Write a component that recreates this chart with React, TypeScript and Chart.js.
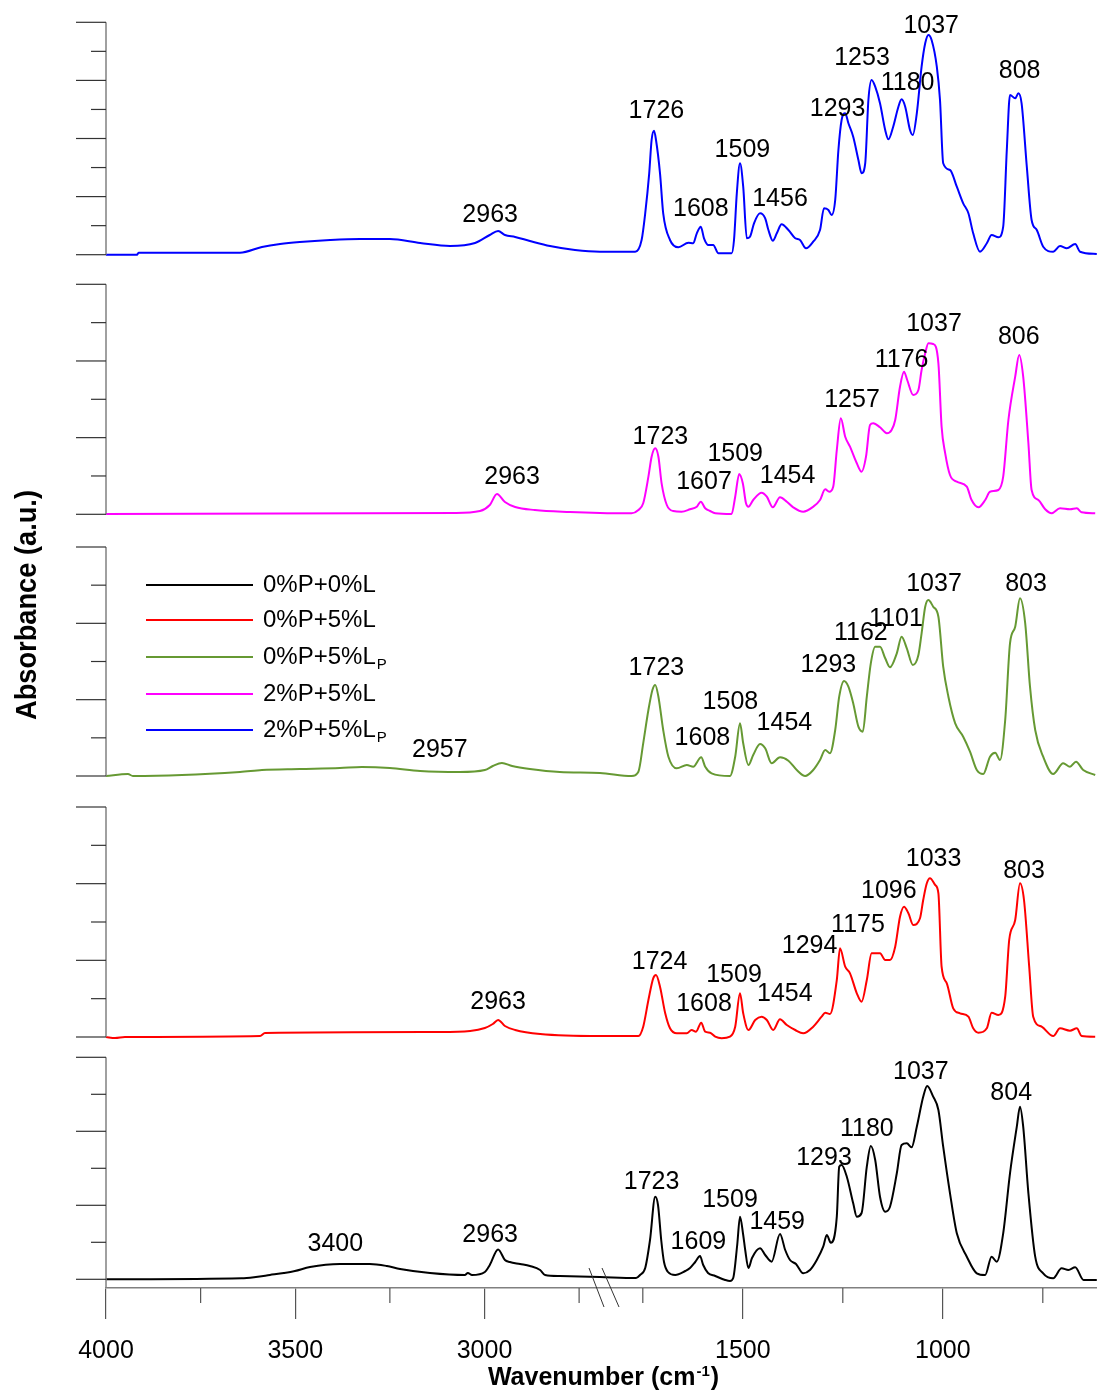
import React, { useEffect, useRef } from 'react';
import { Chart, registerables } from 'chart.js';

Chart.register(...registerables);

const FONT = "'Liberation Sans', Arial, Helvetica, sans-serif";

// ---------------- data (wavenumber in cm-1, absorbance in a.u., baseline of each panel = 0) ----------------
const X_MAJOR_TICKS = [4000, 3500, 3000, 1500, 1000];
const X_MINOR_TICKS = [3750, 3250, 2750, 1750, 1250, 750];

// 0%P+0%L (black)
const blackWn = [4000, 3642, 3604, 3567, 3530, 3501, 3461, 3382, 3303, 3258, 3223, 3144, 3052, 3044, 3033, 2999, 2986, 2964, 2946, 2933, 2906, 2880, 2853, 2840, 2801, 2695,
  1767, 1757, 1744, 1732, 1719, 1712, 1704, 1697, 1687, 1669, 1644, 1632, 1619, 1607, 1599, 1587, 1569, 1544, 1532, 1524, 1514, 1507, 1499, 1494, 1486, 1477, 1457, 1444, 1428, 1407,
  1394, 1382, 1367, 1349, 1332, 1315, 1299, 1290, 1280, 1265, 1259, 1253, 1240, 1224, 1215, 1203, 1190, 1180, 1169, 1157, 1144, 1132, 1115, 1103, 1090, 1078, 1065, 1049, 1039, 1024,
  1011, 999, 982, 965, 940, 915, 894, 878, 865, 849, 832, 815, 807, 799, 786, 769, 749, 724, 703, 686, 669, 648, 615];
const blackAbs = [0, 0.01, 0.023, 0.043, 0.063, 0.083, 0.123, 0.153, 0.153, 0.133, 0.103, 0.063, 0.043, 0.063, 0.043, 0.073, 0.143, 0.298, 0.193, 0.173, 0.153, 0.133, 0.093, 0.043, 0.033, 0.023,
  0.013, 0.043, 0.113, 0.393, 0.826, 0.743, 0.393, 0.173, 0.073, 0.043, 0.083, 0.113, 0.173, 0.233, 0.143, 0.063, 0.033, -0.007, -0.017, 0.013, 0.343, 0.626, 0.443, 0.293, 0.113, 0.213, 0.31, 0.243, 0.176, 0.453,
  0.293, 0.193, 0.153, 0.06, 0.093, 0.193, 0.326, 0.443, 0.366, 0.626, 1.126, 1.143, 1.026, 0.76, 0.626, 0.663, 1.126, 1.333, 1.193, 0.826, 0.676, 0.726, 1.06, 1.343, 1.36, 1.32, 1.526, 1.826, 1.933, 1.826,
  1.693, 1.326, 0.86, 0.46, 0.226, 0.06, 0.043, 0.226, 0.176, 0.46, 1.06, 1.526, 1.726, 1.526, 0.86, 0.226, 0.06, 0.01, 0.11, 0.093, 0.12, -0.007, -0.007];
const blackPeaks = [['3400', 3394, 0.356], ['2963', 2985, 0.446], ['1723', 1728, 0.976], ['1609', 1611, 0.373], ['1509', 1532, 0.79], ['1459', 1414, 0.573], ['1293', 1297, 1.213], ['1180', 1190, 1.503], ['1037', 1055, 2.07], ['804', 829, 1.86]];

// 0%P+5%L (red)
const redWn = [4000, 3976, 3950, 3593, 3580, 3118, 3038, 2999, 2978, 2964, 2946, 2919, 2853, 2695,
  1761, 1749, 1736, 1724, 1717, 1707, 1694, 1682, 1665, 1640, 1628, 1617, 1604, 1594, 1582, 1569, 1553, 1532, 1519, 1507,
  1499, 1486, 1469, 1453, 1440, 1424, 1407, 1390, 1369, 1349, 1324, 1303, 1294, 1282, 1265, 1257, 1244, 1232, 1215, 1203,
  1190, 1178, 1157, 1144, 1132, 1119, 1107, 1097, 1086, 1074, 1057, 1049, 1040, 1032, 1019, 1011, 1003, 990, 974, 957,
  936, 924, 911, 890, 878, 861, 844, 834, 819, 807, 797, 784, 774, 753, 724, 707, 682, 665, 653, 619];
const redAbs = [0, -0.01, 0, 0.01, 0.04, 0.05, 0.06, 0.09, 0.13, 0.17, 0.11, 0.07, 0.03, 0.01,
  0.01, 0.103, 0.37, 0.587, 0.62, 0.503, 0.237, 0.087, 0.037, 0.037, 0.07, 0.053, 0.143, 0.053, 0.043, 0.003, -0.013, 0.003, 0.103, 0.437,
  0.237, 0.07, 0.17, 0.203, 0.17, 0.07, 0.177, 0.12, 0.07, 0.037, 0.103, 0.203, 0.243, 0.23, 0.57, 0.887, 0.703, 0.637, 0.437, 0.353,
  0.57, 0.837, 0.837, 0.77, 0.77, 0.903, 1.203, 1.303, 1.237, 1.12, 1.187, 1.37, 1.537, 1.587, 1.52, 1.437, 0.703, 0.537, 0.287, 0.237,
  0.203, 0.087, 0.043, 0.087, 0.243, 0.22, 0.403, 0.97, 1.17, 1.537, 1.37, 0.703, 0.203, 0.103, 0.01, 0.087, 0.063, 0.087, 0.01, 0.003];
const redPeaks = [['2963', 2964, 0.35], ['1724', 1708, 0.75], ['1608', 1597, 0.33], ['1509', 1522, 0.62], ['1454', 1395, 0.43], ['1294', 1333, 0.913], ['1175', 1212, 1.117], ['1096', 1135, 1.46], ['1033', 1023, 1.777], ['803', 797, 1.657]];

// 0%P+5%Lp (green)
const greenWn = [4000, 3942, 3929, 3646, 3588, 3488, 3382, 3324, 3250, 3170, 3065, 2999, 2978, 2954, 2927, 2880, 2801, 2695,
  1778, 1761, 1749, 1736, 1726, 1719, 1711, 1699, 1686, 1665, 1640, 1624, 1604, 1594, 1578, 1532, 1519, 1507, 1499, 1486,
  1474, 1457, 1444, 1428, 1407, 1386, 1365, 1344, 1324, 1307, 1294, 1282, 1269, 1259, 1247, 1236, 1224, 1211, 1200, 1190,
  1180, 1169, 1157, 1144, 1132, 1115, 1103, 1090, 1075, 1061, 1053, 1044, 1036, 1024, 1011, 999, 986, 969, 949, 932,
  915, 899, 882, 869, 857, 844, 832, 819, 807, 794, 782, 769, 749, 724, 699, 682, 667, 649, 619];
const greenAbs = [0, 0.02, 0, 0.04, 0.06, 0.07, 0.08, 0.09, 0.08, 0.05, 0.04, 0.06, 0.1, 0.13, 0.1, 0.07, 0.04, 0.03,
  0, 0.043, 0.327, 0.66, 0.86, 0.91, 0.793, 0.46, 0.193, 0.077, 0.11, 0.093, 0.187, 0.093, 0.027, 0, 0.193, 0.527, 0.327, 0.11,
  0.21, 0.32, 0.277, 0.127, 0.187, 0.153, 0.06, 0, 0.06, 0.16, 0.26, 0.227, 0.46, 0.793, 0.95, 0.893, 0.727, 0.493, 0.443, 0.793,
  1.127, 1.293, 1.293, 1.177, 1.087, 1.227, 1.393, 1.277, 1.11, 1.21, 1.427, 1.693, 1.76, 1.693, 1.593, 1.093, 0.793, 0.527, 0.393, 0.243,
  0.06, 0.02, 0.193, 0.233, 0.16, 0.56, 1.327, 1.493, 1.777, 1.527, 0.893, 0.46, 0.193, 0.02, 0.127, 0.093, 0.143, 0.06, 0.01];
const greenPeaks = [['2957', 3118, 0.26], ['1723', 1716, 1.077], ['1608', 1601, 0.377], ['1508', 1531, 0.737], ['1454', 1396, 0.53], ['1293', 1286, 1.11], ['1162', 1205, 1.43], ['1101', 1117, 1.573], ['1037', 1022, 1.917], ['803', 792, 1.917]];

// 2%P+5%L (magenta)
const magentaWn = [4000, 3078, 3012, 2986, 2967, 2946, 2919, 2867, 2774, 2695,
  1778, 1761, 1749, 1736, 1728, 1719, 1711, 1703, 1690, 1674, 1653, 1632, 1615, 1605, 1594, 1582, 1569, 1528, 1519, 1509,
  1500, 1492, 1486, 1474, 1453, 1440, 1425, 1407, 1390, 1374, 1349, 1324, 1307, 1294, 1284, 1274, 1265, 1255, 1244, 1232,
  1215, 1203, 1192, 1182, 1174, 1157, 1140, 1128, 1119, 1107, 1097, 1089, 1074, 1061, 1053, 1044, 1036, 1024, 1011, 1003,
  994, 982, 965, 940, 928, 911, 894, 882, 861, 849, 836, 819, 809, 799, 786, 778, 761, 744, 728, 707, 682, 665, 653, 619];
const magentaAbs = [0.003, 0.013, 0.033, 0.093, 0.203, 0.123, 0.073, 0.043, 0.023, 0.013,
  0.01, 0.043, 0.11, 0.376, 0.576, 0.66, 0.576, 0.31, 0.093, 0.033, 0.026, 0.05, 0.076, 0.126, 0.06, 0.033, 0.01, 0.003, 0.176, 0.403,
  0.31, 0.11, 0.076, 0.143, 0.216, 0.176, 0.07, 0.17, 0.126, 0.07, 0.026, 0.076, 0.143, 0.25, 0.226, 0.276, 0.643, 0.96, 0.776, 0.676,
  0.51, 0.426, 0.576, 0.893, 0.91, 0.87, 0.81, 0.843, 0.943, 1.276, 1.426, 1.343, 1.193, 1.243, 1.443, 1.61, 1.71, 1.703, 1.51, 0.876,
  0.61, 0.393, 0.326, 0.276, 0.143, 0.07, 0.143, 0.226, 0.243, 0.376, 0.943, 1.376, 1.593, 1.376, 0.71, 0.243, 0.143, 0.05, 0.01, 0.06, 0.05, 0.06, 0.02, 0.01];
const magentaPeaks = [['2963', 2927, 0.373], ['1723', 1706, 0.776], ['1607', 1597, 0.32], ['1509', 1519, 0.603], ['1454', 1388, 0.383], ['1257', 1227, 1.143], ['1176', 1103, 1.543], ['1037', 1022, 1.903], ['806', 810, 1.77]];

// 2%P+5%Lp (blue)
const blueWn = [4000, 3918, 3914, 3646, 3588, 3540, 3488, 3408, 3329, 3250, 3170, 3091, 3025, 2986, 2964, 2946, 2919, 2880, 2827, 2761, 2695,
  1769, 1753, 1744, 1734, 1728, 1722, 1717, 1707, 1699, 1682, 1661, 1636, 1624, 1615, 1605, 1597, 1586, 1574, 1561, 1528,
  1522, 1515, 1507, 1499, 1490, 1482, 1472, 1457, 1444, 1436, 1425, 1415, 1403, 1386, 1369, 1357, 1342, 1324, 1307, 1297,
  1286, 1278, 1269, 1261, 1253, 1244, 1236, 1224, 1211, 1203, 1194, 1186, 1178, 1169, 1157, 1144, 1136, 1124, 1111, 1103,
  1094, 1082, 1075, 1065, 1053, 1044, 1036, 1028, 1015, 1007, 999, 982, 965, 949, 936, 924, 907, 890, 878, 861,
  849, 840, 832, 819, 811, 803, 790, 778, 765, 749, 724, 707, 690, 669, 657, 615];
const blueAbs = [0, 0, 0.02, 0.02, 0.077, 0.107, 0.127, 0.147, 0.157, 0.157, 0.117, 0.087, 0.117, 0.197, 0.237, 0.197, 0.177, 0.137, 0.087, 0.047, 0.03,
  0.03, 0.147, 0.414, 0.814, 1.147, 1.24, 1.147, 0.814, 0.414, 0.147, 0.074, 0.12, 0.114, 0.214, 0.28, 0.164, 0.097, 0.097, 0.014, 0.014,
  0.147, 0.614, 0.914, 0.68, 0.164, 0.18, 0.314, 0.414, 0.364, 0.247, 0.14, 0.214, 0.304, 0.247, 0.164, 0.147, 0.064, 0.13, 0.247, 0.464,
  0.447, 0.397, 0.547, 1.047, 1.347, 1.414, 1.314, 1.18, 0.947, 0.814, 0.914, 1.547, 1.747, 1.68, 1.514, 1.247, 1.154, 1.28, 1.48, 1.554,
  1.48, 1.247, 1.197, 1.414, 1.88, 2.114, 2.197, 2.147, 1.88, 1.547, 0.914, 0.847, 0.68, 0.514, 0.414, 0.214, 0.03, 0.114, 0.197, 0.174,
  0.28, 1.047, 1.597, 1.564, 1.614, 1.514, 0.88, 0.347, 0.247, 0.08, 0.03, 0.087, 0.064, 0.107, 0.03, 0.007];
const bluePeaks = [['2963', 2985, 0.397], ['1726', 1716, 1.437], ['1608', 1605, 0.457], ['1509', 1501, 1.05], ['1456', 1407, 0.557], ['1293', 1263, 1.452], ['1253', 1202, 1.969], ['1180', 1088, 1.719], ['1037', 1029, 2.289], ['808', 808, 1.839]];

const SERIES_NAMES = ['0%P+0%L', '0%P+5%L', '0%P+5%L', '2%P+5%L', '2%P+5%L'];
const SERIES_SUBSCRIPTS = ['', '', 'P', '', 'P'];
const SERIES_COLORS = ['#000000', '#ff0000', '#669933', '#ff00ff', '#0000ff'];
const SERIES_WN = [blackWn, redWn, greenWn, magentaWn, blueWn];
const SERIES_ABS = [blackAbs, redAbs, greenAbs, magentaAbs, blueAbs];
const SERIES_PEAKS = [blackPeaks, redPeaks, greenPeaks, magentaPeaks, bluePeaks];

// ---------------- layout ----------------
const CANVAS_W = 1097;
const CANVAS_H = 1394;
const CHART_TOP = 10;
const CHART_BOTTOM = 1288;
const PX_PER_AU = 100;
// panels from bottom (black) to top (blue): baseline / axis top in canvas px, number of tick divisions
const PANELS = [
  { baseline: 1279.3, top: 1057.3, div: 6 },
  { baseline: 1037, top: 807, div: 6 },
  { baseline: 776, top: 547, div: 6 },
  { baseline: 514.3, top: 284.3, div: 6 },
  { baseline: 254.7, top: 22.3, div: 8 },
];
const LEGEND_Y = [585, 620, 657, 694, 730];
const LEGEND_X0 = 146;
const LEGEND_X1 = 253;
const LEGEND_TEXT_X = 263;

// broken wavenumber axis
const AXIS_START = 4000;
const BREAK_HIGH = 2680;
const BREAK_LOW = 1843;
const AXIS_END = 614.5;
const LEFT_RATE = 0.3785;
const RIGHT_RATE = 0.4;

function toAxis(wn: number): number {
  if (wn >= BREAK_HIGH) return (AXIS_START - wn) * LEFT_RATE;
  return (AXIS_START - BREAK_HIGH) * LEFT_RATE + (BREAK_LOW - wn) * RIGHT_RATE;
}

const AXIS_COLOR = '#808080';
const TICK_COLOR = '#333333';

function line(ctx: any, x0: number, y0: number, x1: number, y1: number) {
  ctx.beginPath();
  ctx.moveTo(x0, y0);
  ctx.lineTo(x1, y1);
  ctx.stroke();
}

const decorPlugin = {
  id: 'decor',
  afterDraw(chart: any) {
    const ctx = chart.ctx;
    const area = chart.chartArea;
    const xs = chart.scales.x;
    ctx.save();

    // panel y axes
    PANELS.forEach((p, i) => {
      const ys = chart.scales['y' + i];
      const axisTop = (p.baseline - p.top) / PX_PER_AU;
      const x0 = area.left;
      const yTop = ys.getPixelForValue(axisTop);
      const yBot = i === 0 ? area.bottom : ys.getPixelForValue(0);
      ctx.strokeStyle = AXIS_COLOR;
      ctx.lineWidth = 1.5;
      line(ctx, x0, yTop, x0, yBot);
      ctx.strokeStyle = TICK_COLOR;
      ctx.lineWidth = 1.2;
      for (let k = 0; k <= p.div; k++) {
        const y = ys.getPixelForValue((axisTop * k) / p.div);
        const len = k % 2 === 0 ? 30 : 15;
        line(ctx, x0 - len, y, x0, y);
      }
    });

    // minor x ticks
    ctx.strokeStyle = '#555';
    ctx.lineWidth = 1.2;
    X_MINOR_TICKS.forEach((w) => {
      const x = xs.getPixelForValue(toAxis(w));
      line(ctx, x, area.bottom, x, area.bottom + 15);
    });

    // axis break marks
    const bx = xs.getPixelForValue(toAxis(BREAK_HIGH));
    ctx.strokeStyle = '#333';
    ctx.lineWidth = 1;
    line(ctx, bx - 16.6, area.bottom - 20, bx - 1.6, area.bottom + 19);
    line(ctx, bx - 3.6, area.bottom - 20, bx + 13.4, area.bottom + 19);

    // peak labels
    ctx.fillStyle = '#000';
    ctx.font = `25px ${FONT}`;
    ctx.textAlign = 'center';
    ctx.textBaseline = 'middle';
    SERIES_PEAKS.forEach((peaks, i) => {
      const ys = chart.scales['y' + i];
      peaks.forEach((pk: any) => {
        ctx.fillText(pk[0], xs.getPixelForValue(toAxis(pk[1])), ys.getPixelForValue(pk[2]));
      });
    });

    // legend
    SERIES_NAMES.forEach((name, i) => {
      const y = LEGEND_Y[i];
      ctx.strokeStyle = SERIES_COLORS[i];
      ctx.lineWidth = 2;
      line(ctx, LEGEND_X0, y, LEGEND_X1, y);
      ctx.fillStyle = '#000';
      ctx.textAlign = 'left';
      ctx.textBaseline = 'middle';
      ctx.font = `24px ${FONT}`;
      ctx.fillText(name, LEGEND_TEXT_X, y);
      if (SERIES_SUBSCRIPTS[i]) {
        const w = ctx.measureText(name).width;
        ctx.font = `15px ${FONT}`;
        ctx.fillText(SERIES_SUBSCRIPTS[i], LEGEND_TEXT_X + w + 1, y + 8);
      }
    });

    // y title
    ctx.save();
    ctx.translate(28, 605);
    ctx.rotate(-Math.PI / 2);
    ctx.font = `bold 29px ${FONT}`;
    const yt = 'Absorbance (a.u.)';
    const ytw = ctx.measureText(yt).width;
    ctx.scale(230 / ytw, 1);
    ctx.textAlign = 'center';
    ctx.textBaseline = 'middle';
    ctx.fillStyle = '#000';
    ctx.fillText(yt, 0, 0);
    ctx.restore();

    // x title with superscript
    const main = 'Wavenumber (cm';
    const sup = '-1';
    const close = ')';
    ctx.textAlign = 'left';
    ctx.textBaseline = 'alphabetic';
    ctx.font = `bold 25px ${FONT}`;
    const w1 = ctx.measureText(main).width;
    const w3 = ctx.measureText(close).width;
    ctx.font = `bold 15px ${FONT}`;
    const w2 = ctx.measureText(sup).width;
    const total = w1 + w2 + w3 + 2;
    const cx = (area.left + area.right) / 2 + 2;
    let tx = cx - total / 2;
    const by = 1385;
    ctx.fillStyle = '#000';
    ctx.font = `bold 25px ${FONT}`;
    ctx.fillText(main, tx, by);
    tx += w1 + 1;
    ctx.font = `bold 15px ${FONT}`;
    ctx.fillText(sup, tx, by - 9);
    tx += w2 + 1;
    ctx.font = `bold 25px ${FONT}`;
    ctx.fillText(close, tx, by);

    ctx.restore();
  },
};

export default function App() {
  const ref = useRef<HTMLCanvasElement>(null);

  useEffect(() => {
    const canvas = ref.current;
    if (!canvas) return;

    const datasets = SERIES_NAMES.map((name, i) => ({
      label: name + SERIES_SUBSCRIPTS[i],
      data: SERIES_WN[i].map((w, k) => ({ x: toAxis(w), y: SERIES_ABS[i][k] })),
      borderColor: SERIES_COLORS[i],
      backgroundColor: SERIES_COLORS[i],
      borderWidth: 2,
      pointRadius: 0,
      cubicInterpolationMode: 'monotone',
      fill: false,
      yAxisID: 'y' + i,
    }));

    const scales: any = {
      x: {
        type: 'linear',
        position: 'bottom',
        min: 0,
        max: toAxis(AXIS_END),
        border: { display: true, color: AXIS_COLOR, width: 1.5 },
        grid: { display: true, drawOnChartArea: false, drawTicks: true, tickLength: 31, color: '#555', lineWidth: 1.2 },
        ticks: {
          autoSkip: false,
          maxRotation: 0,
          padding: 17,
          color: '#000',
          font: { family: FONT, size: 25 },
          callback: (_v: any, idx: number) => String(X_MAJOR_TICKS[idx]),
        },
        afterBuildTicks: (scale: any) => {
          scale.ticks = X_MAJOR_TICKS.map((w) => ({ value: toAxis(w) }));
        },
      },
    };
    PANELS.forEach((p, i) => {
      scales['y' + i] = {
        type: 'linear',
        display: false,
        min: -(CHART_BOTTOM - p.baseline) / PX_PER_AU,
        max: (p.baseline - CHART_TOP) / PX_PER_AU,
      };
    });

    const chart = new Chart(canvas, {
      type: 'line',
      data: { datasets },
      options: {
        responsive: false,
        animation: false,
        devicePixelRatio: 1,
        layout: { padding: { left: 106, right: 0, top: CHART_TOP, bottom: 11 } },
        plugins: { legend: { display: false }, tooltip: { enabled: false } },
        scales,
      },
      plugins: [decorPlugin],
    } as any);

    return () => chart.destroy();
  }, []);

  return (
    <div style={{ position: 'absolute', left: 0, top: 0, width: CANVAS_W, height: CANVAS_H, background: '#fff' }}>
      <canvas ref={ref} width={CANVAS_W} height={CANVAS_H} style={{ display: 'block', width: CANVAS_W, height: CANVAS_H }} />
    </div>
  );
}
